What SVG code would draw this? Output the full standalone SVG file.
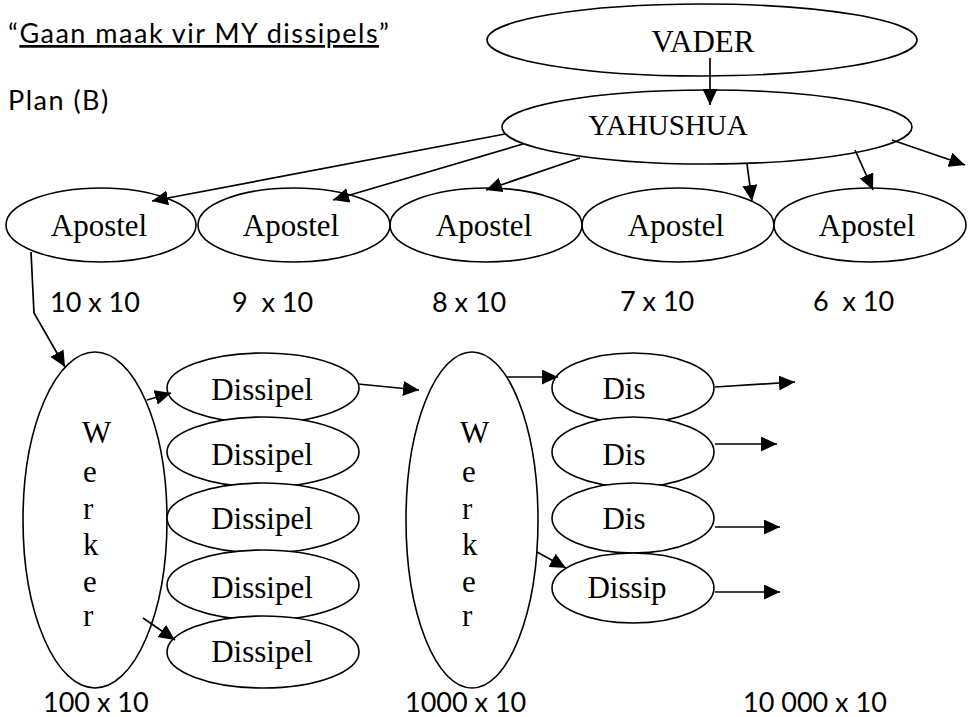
<svg xmlns="http://www.w3.org/2000/svg" width="970" height="717" viewBox="0 0 970 717">
<defs>
<marker id="ah" markerUnits="userSpaceOnUse" markerWidth="17" markerHeight="15" refX="16" refY="7.5" orient="auto">
<path d="M0,0 L16,7.5 L0,15 z" fill="#000"/>
</marker>
<style>
.n{fill:#fff;stroke:#000;stroke-width:1.6}
.t{font-family:"Liberation Serif","Times New Roman",serif;font-size:31px;fill:#000}
.s{font-family:Lato,"Liberation Sans",sans-serif;font-size:27px;fill:#000}
.h{font-family:Lato,"Liberation Sans",sans-serif;font-size:27px;letter-spacing:1.5px;fill:#000}
.c{fill:none;stroke:#000;stroke-width:1.7;marker-end:url(#ah)}
</style>
</defs>
<rect width="970" height="717" fill="#fff"/>
<g id="labels">
<text class="h" x="8" y="43">“<tspan text-decoration="underline">Gaan maak vir MY dissipels</tspan>”</text>
<text class="h" x="8" y="110">Plan (B)</text>
<text class="s" x="50" y="312">10 x 10</text>
<text class="s" x="232" y="312" xml:space="preserve">9  x 10</text>
<text class="s" x="432" y="312">8 x 10</text>
<text class="s" x="620" y="311">7 x 10</text>
<text class="s" x="813" y="311" xml:space="preserve">6  x 10</text>
<text class="s" x="43" y="712">100 x 10</text>
<text class="s" x="405" y="712">1000 x 10</text>
<text class="s" x="743" y="712">10 000 x 10</text>
</g>
<g id="vader"><ellipse class="n" cx="702" cy="40" rx="215" ry="36"/><text class="t" x="703" y="52" text-anchor="middle">VADER</text></g>
<g id="yahushua"><ellipse class="n" cx="707" cy="127" rx="205" ry="37"/><text class="t" x="668" y="135" text-anchor="middle" style="font-size:29px">YAHUSHUA</text></g>
<g id="apostel1"><ellipse class="n" cx="101" cy="225" rx="95" ry="37"/><text class="t" x="99" y="236" text-anchor="middle">Apostel</text></g>
<g id="apostel2"><ellipse class="n" cx="294" cy="225" rx="96" ry="37"/><text class="t" x="291" y="236" text-anchor="middle">Apostel</text></g>
<g id="apostel3"><ellipse class="n" cx="486" cy="225" rx="96" ry="37"/><text class="t" x="484" y="236" text-anchor="middle">Apostel</text></g>
<g id="apostel4"><ellipse class="n" cx="678" cy="225" rx="96" ry="37"/><text class="t" x="676" y="236" text-anchor="middle">Apostel</text></g>
<g id="apostel5"><ellipse class="n" cx="870" cy="225" rx="96" ry="37"/><text class="t" x="867" y="236" text-anchor="middle">Apostel</text></g>
<g id="werker1"><ellipse class="n" cx="95" cy="520" rx="72" ry="168"/>
<text class="t" x="82" y="443"><tspan x="82">W</tspan><tspan x="83" dy="39">e</tspan><tspan x="83" dy="37">r</tspan><tspan x="83" dy="36">k</tspan><tspan x="83" dy="37">e</tspan><tspan x="83" dy="34">r</tspan></text></g>
<g id="dissipel1"><ellipse class="n" cx="263" cy="388" rx="96" ry="35"/><text class="t" x="262" y="400" text-anchor="middle">Dissipel</text></g>
<g id="dissipel2"><ellipse class="n" cx="263" cy="452" rx="96" ry="35"/><text class="t" x="262" y="465" text-anchor="middle">Dissipel</text></g>
<g id="dissipel3"><ellipse class="n" cx="263" cy="518" rx="96" ry="35"/><text class="t" x="262" y="529" text-anchor="middle">Dissipel</text></g>
<g id="dissipel4"><ellipse class="n" cx="263" cy="585" rx="96" ry="35"/><text class="t" x="262" y="598" text-anchor="middle">Dissipel</text></g>
<g id="dissipel5"><ellipse class="n" cx="263" cy="652" rx="96" ry="36"/><text class="t" x="262" y="662" text-anchor="middle">Dissipel</text></g>
<g id="werker2"><ellipse class="n" cx="472" cy="520" rx="66" ry="168"/>
<text class="t" x="460" y="443"><tspan x="460">W</tspan><tspan x="462" dy="39">e</tspan><tspan x="462" dy="37">r</tspan><tspan x="462" dy="36">k</tspan><tspan x="462" dy="37">e</tspan><tspan x="462" dy="34">r</tspan></text></g>
<g id="dis1"><ellipse class="n" cx="633" cy="388" rx="81" ry="35"/><text class="t" x="624" y="399" text-anchor="middle">Dis</text></g>
<g id="dis2"><ellipse class="n" cx="633" cy="452" rx="81" ry="35"/><text class="t" x="624" y="465" text-anchor="middle">Dis</text></g>
<g id="dis3"><ellipse class="n" cx="633" cy="518" rx="81" ry="35"/><text class="t" x="624" y="529" text-anchor="middle">Dis</text></g>
<g id="dissip"><ellipse class="n" cx="633" cy="588" rx="81" ry="35"/><text class="t" x="627" y="598" text-anchor="middle">Dissip</text></g>
<g id="connectors">
<path class="c" d="M710,58 L710,105"/>
<path class="c" d="M505,134 L152,201"/>
<path class="c" d="M523,144 L333,200"/>
<path class="c" d="M580,158 L486,190"/>
<path class="c" d="M747,164 L752,201"/>
<path class="c" d="M855,150 L873,190"/>
<path class="c" d="M892,140 L965,165"/>
<path class="c" d="M31,252 L34,313 L65,367"/>
<path class="c" d="M147,400 L171,393"/>
<path class="c" d="M143,618 L175,640"/>
<path class="c" d="M358,384 L419,390"/>
<path class="c" d="M507,377 L558,377"/>
<path class="c" d="M537,552 L566,568"/>
<path class="c" d="M715,387 L795,382"/>
<path class="c" d="M715,444 L777,444"/>
<path class="c" d="M715,527 L780,527"/>
<path class="c" d="M715,592 L780,592"/>
</g>
</svg>
